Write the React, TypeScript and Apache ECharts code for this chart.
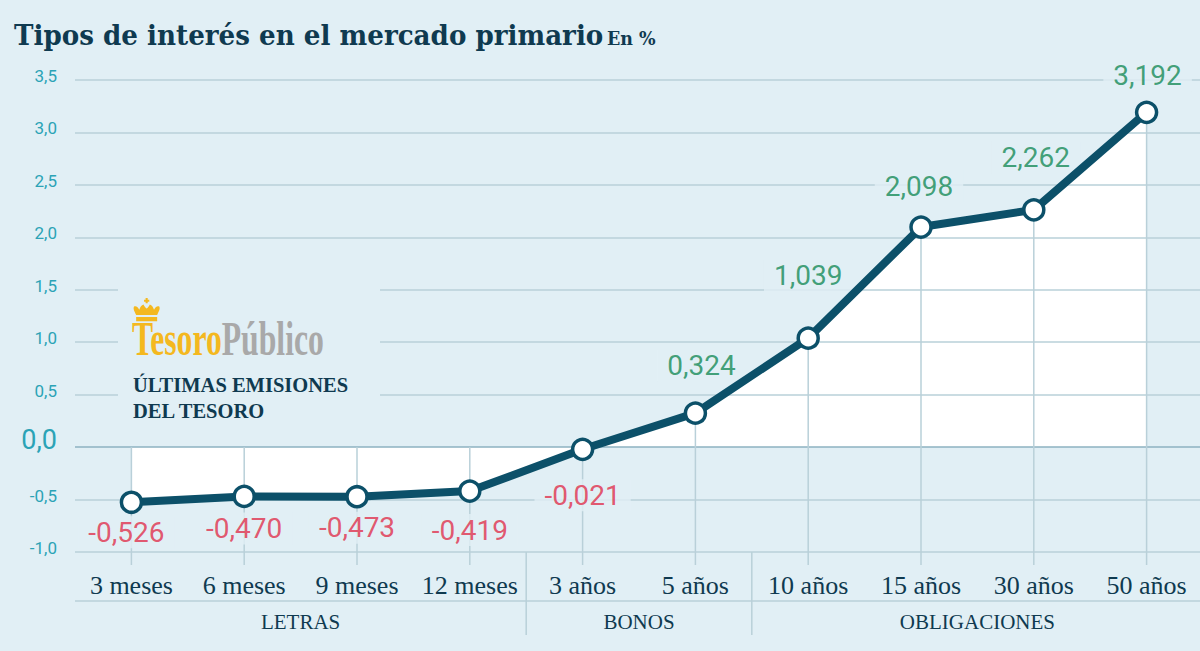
import React, { useEffect, useRef } from "react";
import * as echarts from "echarts";

const categories = ["3 meses", "6 meses", "9 meses", "12 meses", "3 años", "5 años", "10 años", "15 años", "30 años", "50 años"];
const rates = [-0.526, -0.47, -0.473, -0.419, -0.021, 0.324, 1.039, 2.098, 2.262, 3.192];
const groupNames = ["LETRAS", "BONOS", "OBLIGACIONES"];
const groupFirst = [0, 4, 6];
const groupLast = [3, 5, 9];
const yMin = -1;
const yMax = 3.5;
const yStep = 0.5;

const titleText = "Tipos de interés en el mercado primario";
const unitText = "En %";
const logoNoteLines = ["ÚLTIMAS EMISIONES", "DEL TESORO"];

// label placement tweaks (style only)
const labelOffsets = [[-5, 30], [0, 32], [0, 31], [0, 39], [0, 46], [6, -48], [0, -63], [-2, -41], [2, -52], [1, -37]];

const BG = "#e1eff5";
const GRID = "#b9d0d9";
const ZERO = "#8db2c0";
const LINE = "#0c5069";
const NAVY = "#0f3a50";
const RED = "#e0304b";
const GREEN = "#168a57";
const TEAL = "#2ba3b6";
const GOLD = "#f4b81f";

const crownPath =
  "M3 13 C1 9 0 7 1 5 C3 4 5 6 6 8 C7 5 8 4 10 3 C11 5 12 6 13 7 C14 6 15 5 16 3 C18 4 19 5 20 8 C21 6 23 4 25 5 C26 7 25 9 23 13 Z M3 15 H23 V19 H3 Z M12 -3 H14 V2 H12 Z M10.5 -1.5 H15.5 V0.5 H10.5 Z";

export default function App() {
  const ref = useRef<HTMLDivElement>(null);
  useEffect(() => {
    if (!ref.current) return;
    echarts.graphic.registerShape("crown", echarts.graphic.extendPath(crownPath, {}));
    const chart = echarts.init(ref.current, null, { renderer: "svg" });
    const fmt = (v: number) => v.toFixed(3).replace(".", ",");
    const nLines = Math.round((yMax - yMin) / yStep) + 1;
    const splitColors: string[] = [];
    for (let k = 0; k < nLines; k++) {
      splitColors.push(Math.abs(yMin + k * yStep) < 1e-9 ? ZERO : GRID);
    }
    const option: any = {
      animation: false,
      backgroundColor: BG,
      grid: { left: 75, top: 80, width: 1128, height: 472, outerBoundsMode: "none", containLabel: false },
      xAxis: {
        type: "category",
        data: categories,
        boundaryGap: true,
        axisLine: { show: false },
        axisTick: { show: false },
        splitLine: { show: false },
        axisLabel: {
          interval: 0,
          margin: 20,
          fontFamily: "Liberation Serif",
          fontSize: 26,
          color: NAVY,
        },
      },
      yAxis: {
        type: "value",
        min: yMin,
        max: yMax,
        interval: yStep,
        z: 3,
        axisLine: { show: false },
        axisTick: { show: false },
        splitLine: { show: true, lineStyle: { color: splitColors, width: 1.5 } },
        axisLabel: {
          margin: 18,
          formatter: (v: number) =>
            Math.abs(v) < 1e-9 ? "{z|0,0}" : "{n|" + v.toFixed(1).replace(".", ",") + "}",
          rich: {
            n: { fontFamily: "Roboto", fontSize: 17, color: TEAL, padding: [0, 0, 8, 0] },
            z: { fontFamily: "Roboto", fontSize: 27, color: TEAL, padding: [0, 0, 14, 0] },
          },
        },
      },
      series: [
        {
          type: "line",
          data: rates,
          symbol: "none",
          lineStyle: { width: 0, opacity: 0 },
          areaStyle: { color: "#ffffff", opacity: 1 },
          z: 1,
          silent: true,
        },
        {
          type: "custom",
          data: rates.map((v, i) => [i, v]),
          clip: false,
          z: 3,
          silent: true,
          renderItem: (params: any, api: any) => {
            const i = api.value(0);
            const v = api.value(1);
            const top = api.coord([i, Math.max(v, 0)]);
            const bot = api.coord([i, yMin]);
            return {
              type: "line",
              shape: { x1: top[0], y1: top[1], x2: top[0], y2: bot[1] + 13 },
              style: { stroke: GRID, lineWidth: 1.5 },
            };
          },
        },
        {
          type: "scatter",
          z: 4,
          silent: true,
          symbolSize: 2,
          itemStyle: { color: "rgba(0,0,0,0)" },
          data: rates.map((v, i) => ({
            value: [i, v],
            label: {
              offset: labelOffsets[i],
              color: v < 0 ? RED : GREEN,
            },
          })),
          label: {
            show: true,
            position: "inside",
            formatter: (p: any) => fmt(p.value[1]),
            fontFamily: "Roboto",
            fontWeight: 400,
            fontSize: 28,
            backgroundColor: BG,
            padding: [2, 10],
          },
        },
        {
          type: "line",
          z: 5,
          data: rates,
          lineStyle: { width: 8, color: LINE },
          symbol: "circle",
          symbolSize: 20,
          itemStyle: { color: "#ffffff", borderColor: LINE, borderWidth: 3.5 },
          label: { show: false },
        },
      ],
    };
    chart.setOption(option);

    const px = (i: number) => chart.convertToPixel({ xAxisIndex: 0 }, i) as number;
    const py = (v: number) => chart.convertToPixel({ yAxisIndex: 0 }, v) as number;
    const x0 = px(0);
    const x1 = px(1);
    const band = x1 - x0;
    const gridLeft = x0 - band / 2;
    const yBottom = py(yMin);
    const gLineY = yBottom + 49;

    const graphics: any[] = [
      {
        type: "text",
        x: 14,
        y: 22,
        scaleX: 0.97,
        z: 10,
        style: {
          text: "{t|" + titleText + "} {s|" + unitText + "}",
          rich: {
            t: { fontFamily: "DejaVu Serif", fontWeight: "bold", fontSize: 27, fill: NAVY },
            s: { fontFamily: "DejaVu Serif", fontWeight: "bold", fontSize: 18, fill: NAVY, padding: [6, 0, 0, 0] },
          },
        },
      },
      {
        type: "rect",
        z: 6,
        shape: { x: gridLeft + 43, y: py(1.75), width: 262, height: py(0.2) - py(1.75) },
        style: { fill: BG },
      },
      {
        type: "crown",
        z: 7,
        x: gridLeft + 58,
        y: py(1.4) + 1,
        scaleX: 1.05,
        scaleY: 1.05,
        style: { fill: GOLD },
      },
      {
        type: "text",
        z: 7,
        x: gridLeft + 57,
        y: py(0.9) + 10,
        scaleX: 0.66,
        style: {
          text: "{a|Tesoro}{b|Público}",
          verticalAlign: "bottom",
          rich: {
            a: { fontFamily: "Liberation Serif", fontWeight: "bold", fontSize: 48, fill: GOLD },
            b: { fontFamily: "Liberation Serif", fontWeight: "bold", fontSize: 48, fill: "#a9a9a9" },
          },
        },
      },
      {
        type: "text",
        z: 7,
        x: gridLeft + 58,
        y: py(0.59) + 13,
        style: {
          text: logoNoteLines.join("\n"),
          fontFamily: "Liberation Serif",
          fontWeight: "bold",
          fontSize: 20.5,
          lineHeight: 26,
          fill: NAVY,
          verticalAlign: "middle",
        },
      },
      {
        type: "line",
        z: 2,
        shape: { x1: gridLeft, y1: gLineY, x2: 1200, y2: gLineY },
        style: { stroke: GRID, lineWidth: 1.5 },
      },
    ];
    for (let g = 0; g < groupNames.length; g++) {
      const cx = (px(groupFirst[g]) + px(groupLast[g])) / 2;
      graphics.push({
        type: "text",
        z: 3,
        x: cx,
        y: gLineY + 21,
        style: {
          text: groupNames[g],
          fontFamily: "Liberation Serif",
          fontSize: 21,
          fill: NAVY,
          align: "center",
          verticalAlign: "middle",
        },
      });
      if (g > 0) {
        const bx = (px(groupLast[g - 1]) + px(groupFirst[g])) / 2;
        graphics.push({
          type: "line",
          z: 2,
          shape: { x1: bx, y1: yBottom, x2: bx, y2: yBottom + 83 },
          style: { stroke: GRID, lineWidth: 1.5 },
        });
      }
    }
    chart.setOption({ graphic: graphics });
    return () => chart.dispose();
  }, []);
  return <div ref={ref} style={{ position: "fixed", left: 0, top: 0, width: 1200, height: 651 }} />;
}
